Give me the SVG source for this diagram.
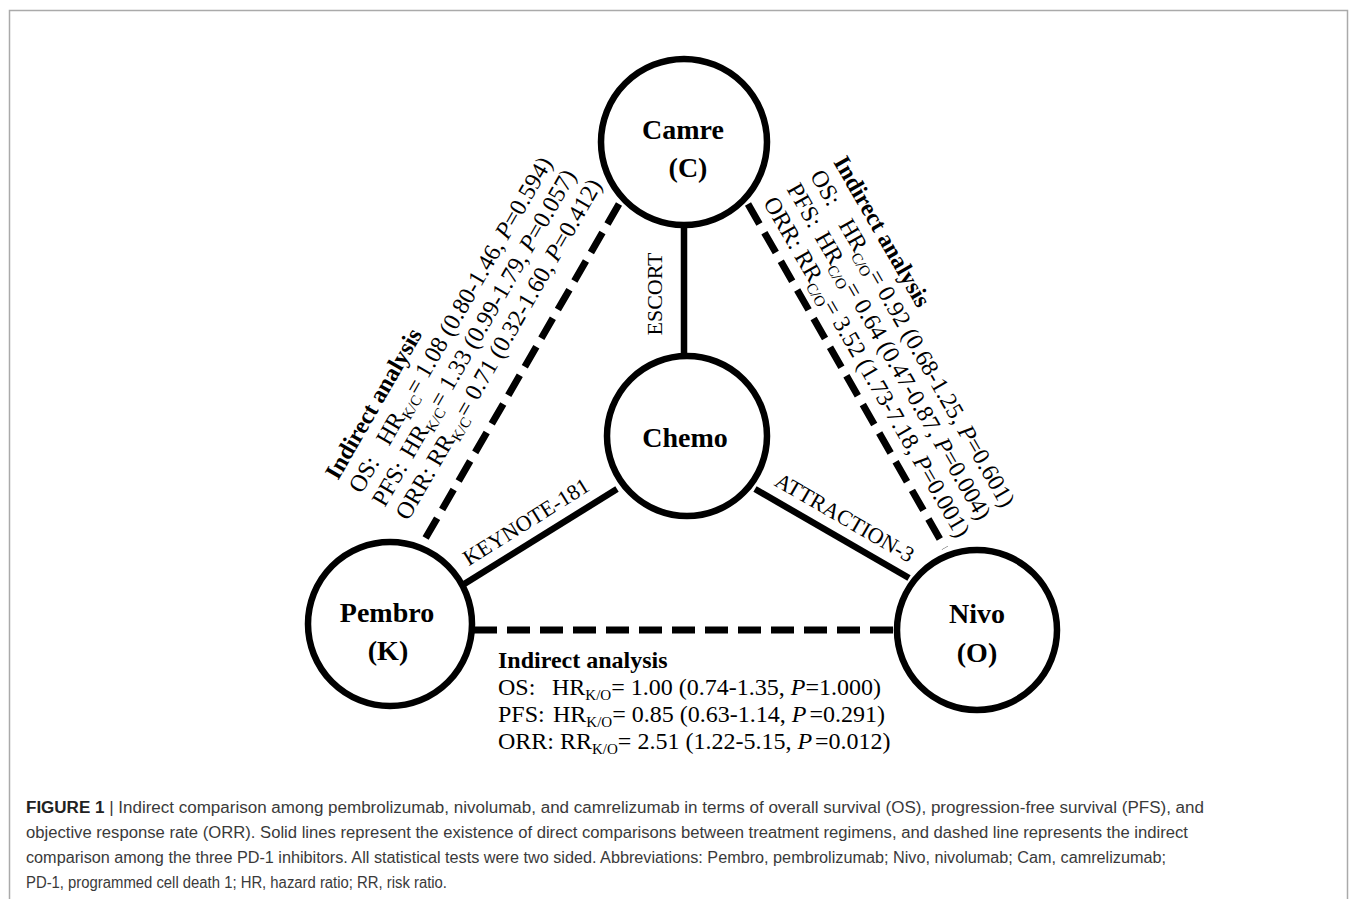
<svg xmlns="http://www.w3.org/2000/svg" width="1357" height="899" viewBox="0 0 1357 899">
<style>
.node circle{fill:#fff;stroke:#000;stroke-width:6.5}
.lbl{font-family:"Liberation Serif","Times New Roman",serif;font-weight:bold;font-size:28px;text-anchor:middle;fill:#000}
.solid{stroke:#000;stroke-width:6.5;fill:none}
.dash{stroke:#000;stroke-width:7;stroke-dasharray:23 10;fill:none}
.t{font-family:"Liberation Serif","Times New Roman",serif;font-size:24px;fill:#000}
.b{font-weight:bold}
.sub{font-size:15px}
.it{font-style:italic}
.elbl{font-family:"Liberation Serif","Times New Roman",serif;font-size:22px;text-anchor:middle;fill:#000}
.cap{font-family:"Liberation Sans",Arial,sans-serif;font-size:16px;fill:#3a3a3a}
</style>
<rect x="9.5" y="10.5" width="1338" height="900" fill="none" stroke="#aaa" stroke-width="1.5"/>
<g id="connectors">
<line class="solid" x1="684" y1="226" x2="684" y2="356"/>
<line class="solid" x1="617" y1="489" x2="461" y2="586"/>
<line class="solid" x1="755" y1="489" x2="909" y2="578"/>
<line class="dash" x1="619" y1="204" x2="421" y2="546"/>
<line class="dash" x1="748" y1="204" x2="945" y2="548"/>
<line class="dash" x1="474" y1="630" x2="895" y2="630"/>
<text class="elbl" transform="translate(662,294) rotate(-90)">ESCORT</text>
<text class="elbl" transform="translate(530,528) rotate(-32)">KEYNOTE-181</text>
<text class="elbl" transform="translate(841,524) rotate(30)">ATTRACTION-3</text>
</g>
<g id="node-camre" class="node">
<circle cx="684" cy="142" r="83"/>
<text class="lbl" x="683" y="139">Camre</text>
<text class="lbl" x="688" y="177">(C)</text>
</g>
<g id="node-chemo" class="node">
<circle cx="687" cy="436" r="80"/>
<text class="lbl" x="685" y="447">Chemo</text>
</g>
<g id="node-pembro" class="node">
<circle cx="390" cy="624" r="82"/>
<text class="lbl" x="387" y="622">Pembro</text>
<text class="lbl" x="388" y="660">(K)</text>
</g>
<g id="node-nivo" class="node">
<circle cx="977" cy="630" r="80"/>
<text class="lbl" x="977" y="623">Nivo</text>
<text class="lbl" x="977" y="662">(O)</text>
</g>
<g id="label-kc" transform="translate(338,481) rotate(-60)">
<text class="t b" x="0" y="0">Indirect analysis</text>
<text class="t" x="0" y="27">OS:<tspan x="55">HR</tspan><tspan class="sub" dy="5">K/C</tspan><tspan dy="-5">= 1.08 (0.80-1.46, </tspan><tspan class="it">P</tspan>=0.594)</text>
<text class="t" x="0" y="54">PFS:<tspan x="56">HR</tspan><tspan class="sub" dy="5">K/C</tspan><tspan dy="-5">= 1.33 (0.99-1.79, </tspan><tspan class="it">P</tspan>=0.057)</text>
<text class="t" x="0" y="81">ORR:<tspan x="62">RR</tspan><tspan class="sub" dy="5">K/C</tspan><tspan dy="-5">= 0.71 (0.32-1.60, </tspan><tspan class="it">P</tspan>=0.412)</text>
</g>
<g id="label-co" transform="translate(833,162) rotate(60)">
<text class="t b" x="0" y="0">Indirect analysis</text>
<text class="t" x="0" y="27">OS:<tspan x="57">HR</tspan><tspan class="sub" dy="5">C/O</tspan><tspan dy="-5">= 0.92 (0.68-1.25, </tspan><tspan class="it">P</tspan>=0.601)</text>
<text class="t" x="0" y="54">PFS:<tspan x="56">HR</tspan><tspan class="sub" dy="5">C/O</tspan><tspan dy="-5">= 0.64 (0.47-0.87, </tspan><tspan class="it">P</tspan>=0.004)</text>
<text class="t" x="0" y="81">ORR:<tspan x="62">RR</tspan><tspan class="sub" dy="5">C/O</tspan><tspan dy="-5">= 3.52 (1.73-7.18, </tspan><tspan class="it">P</tspan>=0.001)</text>
</g>
<g id="label-ko">
<text class="t b" x="498" y="668">Indirect analysis</text>
<text class="t" x="498" y="695">OS:<tspan x="552">HR</tspan><tspan class="sub" dy="5">K/O</tspan><tspan dy="-5">= 1.00 (0.74-1.35, </tspan><tspan class="it">P</tspan>=1.000)</text>
<text class="t" x="498" y="722">PFS:<tspan x="553">HR</tspan><tspan class="sub" dy="5">K/O</tspan><tspan dy="-5">= 0.85 (0.63-1.14, </tspan><tspan class="it">P</tspan><tspan dx="3">=0.291)</tspan></text>
<text class="t" x="498" y="749">ORR:<tspan x="560">RR</tspan><tspan class="sub" dy="5">K/O</tspan><tspan dy="-5">= 2.51 (1.22-5.15, </tspan><tspan class="it">P</tspan><tspan dx="3">=0.012)</tspan></text>
</g>
<g id="caption">
<text class="cap" x="26" y="813" textLength="1178" lengthAdjust="spacingAndGlyphs"><tspan font-weight="bold" fill="#222">FIGURE 1</tspan> | Indirect comparison among pembrolizumab, nivolumab, and camrelizumab in terms of overall survival (OS), progression-free survival (PFS), and</text>
<text class="cap" x="26" y="838" textLength="1162" lengthAdjust="spacingAndGlyphs">objective response rate (ORR). Solid lines represent the existence of direct comparisons between treatment regimens, and dashed line represents the indirect</text>
<text class="cap" x="26" y="863" textLength="1140" lengthAdjust="spacingAndGlyphs">comparison among the three PD-1 inhibitors. All statistical tests were two sided. Abbreviations: Pembro, pembrolizumab; Nivo, nivolumab; Cam, camrelizumab;</text>
<text class="cap" x="26" y="888" textLength="421" lengthAdjust="spacingAndGlyphs">PD-1, programmed cell death 1; HR, hazard ratio; RR, risk ratio.</text>
</g>
</svg>
